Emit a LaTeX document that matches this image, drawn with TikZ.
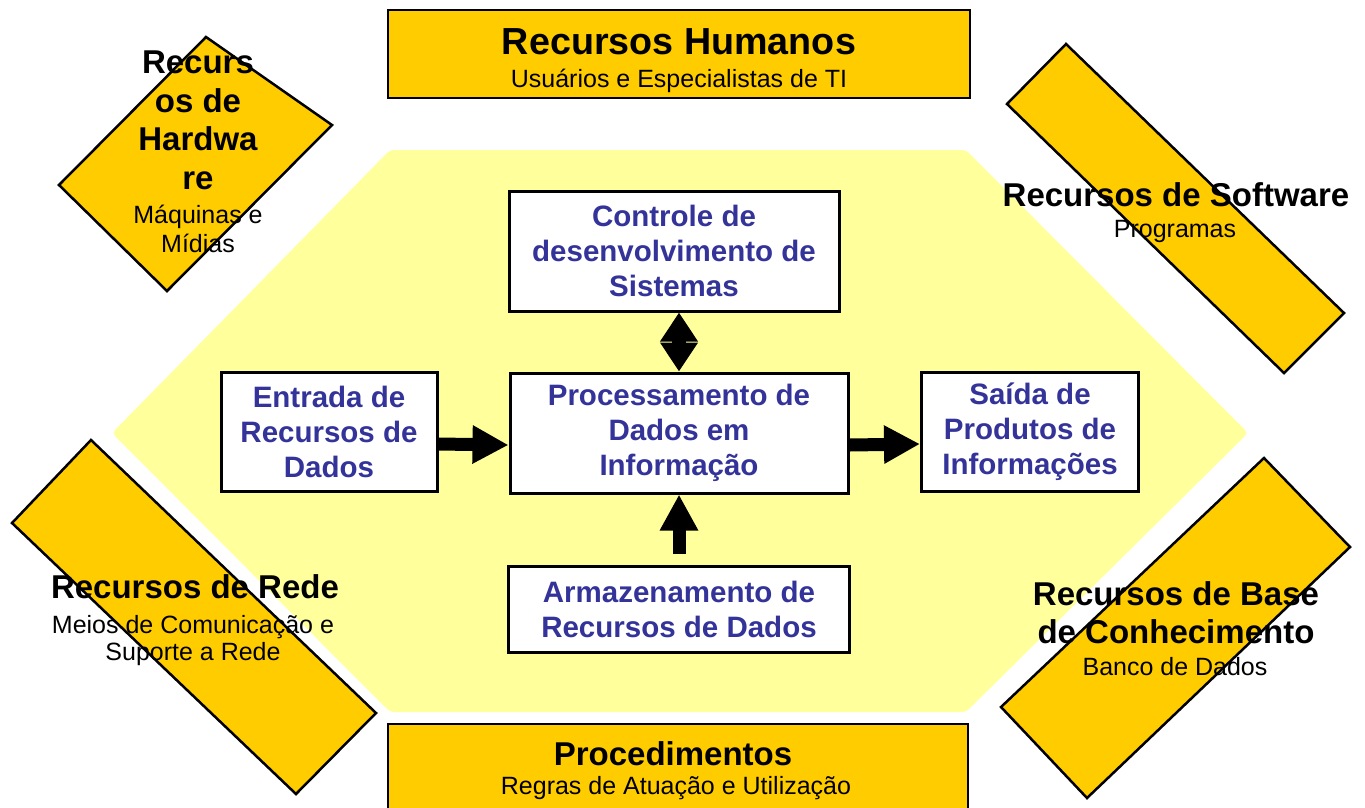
\documentclass[tikz,border=0pt]{standalone}
\usepackage{fontspec}
\setmainfont{Liberation Sans}
\usetikzlibrary{arrows.meta}
\definecolor{ouro}{HTML}{FFCC00}
\definecolor{palido}{HTML}{FFFF9C}
\definecolor{azul}{HTML}{333399}
\tikzset{
  recurso/.style={fill=ouro, draw=black, line width=2.5pt},
  titulo/.style={font=\bfseries\fontsize{33}{38.5}\selectfont, align=center, inner sep=0pt},
  legenda/.style={font=\fontsize{25}{29}\selectfont, align=center, inner sep=0pt},
  caixa/.style={draw=black, line width=3pt, fill=white, align=center, inner sep=0pt,
    text=azul, font=\bfseries\fontsize{29.5}{35}\selectfont},
  seta/.style={line width=13pt, -{Triangle[length=36pt,width=36pt]}}
}

\begin{document}
\begin{tikzpicture}[x=1pt, y=-1pt]
			%%%%% START %%%%%
			
			\path[use as bounding box, fill=white] (0,0) rectangle (1365,807);
			
			\fill[palido, rounded corners=4pt] (390,150) -- (966,150) -- (1248,433) -- (966,712) -- (390,712) -- (112,433) -- cycle;
			
			\draw[recurso] (388,10) rectangle (970,98);
			\draw[recurso] (388,724) rectangle (968,812);
			
			\draw[recurso] (206,37) -- (332,125) -- (167,291) -- (59,185) -- cycle;
			\draw[recurso] (1066,44) -- (1344,313) -- (1284,373) -- (1007,104) -- cycle;
			\draw[recurso] (91,440) -- (376,713) -- (296,794) -- (12,523) -- cycle;
			\draw[recurso] (1264,458) -- (1350,547) -- (1087,798) -- (1001,707) -- cycle;
			
			\node[titulo, anchor=base, font=\bfseries\fontsize{37.7}{44}\selectfont] (humanos) at (679,54) {Recursos Humanos};
			\node[legenda, anchor=base] (humanossub) at (679,87) {Usuários e Especialistas de TI};
			
			\node[titulo, anchor=north] (hardware) at (198,51) {Recurs\\os de\\Hardwa\\re};
			\node[legenda, anchor=north] (hardwaresub) at (198,205) {Máquinas e\\Mídias};
			
			\node[titulo, anchor=base] (software) at (1176,206) {Recursos de Software};
			\node[legenda, anchor=base] (softwaresub) at (1175,237) {Programas};
			
			\node[titulo, anchor=base] (rede) at (195,598) {Recursos de Rede};
			\node[legenda, anchor=north, font=\fontsize{25}{27}\selectfont] (redesub) at (193,615) {Meios de Comunicação e\\Suporte a Rede};
			
			\node[titulo, anchor=north] (base) at (1176,581) {Recursos de Base\\de Conhecimento};
			\node[legenda, anchor=base] (basesub) at (1175,675) {Banco de Dados};
			
			\node[titulo, anchor=base] (procedimentos) at (673,765) {Procedimentos};
			\node[legenda, anchor=base] (procedimentossub) at (676,794) {Regras de Atuação e Utilização};
			
			\node[caixa, minimum width=330pt, minimum height=120pt] (controle) at (674,251) {Controle de\\desenvolvimento de\\Sistemas};
			\node[caixa, minimum width=338pt, minimum height=120pt] (processo) at (679,433) {Processamento de\\Dados em\\Informação};
			\node[caixa, minimum width=216pt, minimum height=119pt] (entrada) at (329,432) {Entrada de\\Recursos de\\Dados};
			\node[caixa, minimum width=217pt, minimum height=119pt] (saida) at (1030,432) {Saída de\\Produtos de\\Informações};
			\node[caixa, minimum width=341pt, minimum height=86pt] (armazena) at (679,609) {Armazenamento de\\Recursos de Dados};
			
			\draw[seta] ([yshift=-12pt]entrada.east) -- ([yshift=-12pt]processo.west);
			\draw[seta] ([yshift=-12pt]processo.east) -- ([yshift=-12pt]saida.west);
			\draw[seta] ([yshift=11pt]armazena.north) -- (processo.south);
			\draw[line width=14pt, {Triangle[length=29pt,width=36pt]}-{Triangle[length=29pt,width=36pt]}] (controle.south -| processo.north) -- (processo.north);
			
			%%%%% END %%%%%
\end{tikzpicture}
\end{document}
